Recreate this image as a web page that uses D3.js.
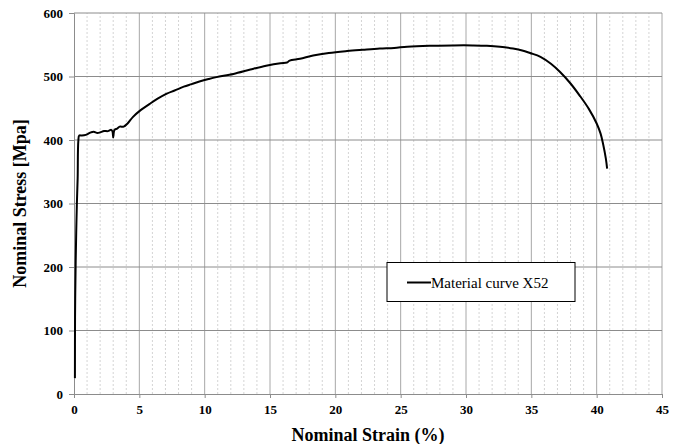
<!DOCTYPE html>
<html>
<head>
<meta charset="utf-8">
<script src="https://cdn.jsdelivr.net/npm/d3@7"></script>
<style>
  body { margin: 0; background: #fff; }
</style>
</head>
<body>
<script>
'use strict';

// material curve X52
const strain = [0.07, 0.08, 0.1, 0.13, 0.17, 0.22, 0.28, 0.33, 0.4, 0.6, 0.9, 1.1, 1.3, 1.5, 1.8, 2.0, 2.3, 2.6, 2.85, 2.95, 3.0, 3.1, 3.3, 3.5, 3.8,
  4.1, 4.5, 5.1, 5.8, 6.4, 7.1, 7.7, 8.4, 9.0, 9.6, 10.3, 10.9, 12.2, 13.5, 14.7, 15.8, 16.3, 16.5, 17.3, 18.3, 19.5, 20.9,
  22.1, 23.4, 24.5, 25.5, 27.2, 29, 30.5, 31.6, 32.6, 33.6, 34.3, 34.9, 35.7, 36.5, 37.2, 38, 38.7, 39.4, 40.0, 40.3, 40.5, 40.7, 40.8];
const stress = [25, 120, 165, 210, 255, 300, 340, 398, 407, 407, 408, 410, 412, 413, 411, 412, 414, 414, 416, 413, 404, 416, 418, 421, 421,
  426, 436, 447, 457, 465, 473, 478, 484, 488, 492, 496, 499, 504, 511, 517, 521, 522, 525, 528, 533, 537, 540,
  542, 544, 545, 547, 548.5, 549, 549, 548.5, 547, 544, 541, 537, 531, 520, 507, 489, 470, 449, 426, 410, 393, 371, 355];
const xTicks = [0, 5, 10, 15, 20, 25, 30, 35, 40, 45];
const yTicks = [0, 100, 200, 300, 400, 500, 600];
const seriesName = "Material curve X52";

const width = 683, height = 444;
const margin = {left: 74, right: 21, top: 13, bottom: 50};
const serif = "'Liberation Serif', 'Times New Roman', serif";

let svg = d3.select("body").append("svg")
    .attr("width", width)
    .attr("height", height);

let x = d3.scaleLinear().domain([0, 45]).range([margin.left, width - margin.right]);
let y = d3.scaleLinear().domain([0, 600]).range([height - margin.bottom, margin.top]);

// minor vertical grid
svg.append("g")
  .selectAll("line")
  .data(d3.range(1, 45).filter(d => d % 5 !== 0))
  .enter().append("line")
    .attr("x1", d => x(d)).attr("x2", d => x(d))
    .attr("y1", y(0)).attr("y2", y(600))
    .attr("stroke", "#d4d4d4")
    .attr("stroke-dasharray", "2,2");

// major grid
svg.append("g")
  .selectAll("line")
  .data(xTicks.slice(1))
  .enter().append("line")
    .attr("x1", d => x(d)).attr("x2", d => x(d))
    .attr("y1", y(0)).attr("y2", y(600))
    .attr("stroke", "#a8a8a8");

svg.append("g")
  .selectAll("line")
  .data(yTicks.slice(1))
  .enter().append("line")
    .attr("x1", x(0)).attr("x2", x(45))
    .attr("y1", d => y(d)).attr("y2", d => y(d))
    .attr("stroke", "#8c8c8c");

// axes
let xAxis = svg.append("g")
    .attr("transform", "translate(0," + y(0) + ")")
    .call(d3.axisBottom(x).tickValues(xTicks).tickSize(4).tickPadding(7));
let yAxis = svg.append("g")
    .attr("transform", "translate(" + x(0) + ",0)")
    .call(d3.axisLeft(y).tickValues(yTicks).tickSize(5).tickPadding(6));
[xAxis, yAxis].forEach(a => {
  a.attr("font-family", serif).attr("font-size", 13).attr("font-weight", "bold");
  a.select(".domain").attr("stroke", "#8c8c8c");
  a.selectAll(".tick line").attr("stroke", "#8c8c8c");
  a.selectAll(".tick text").attr("fill", "#000");
});

// curve
let pts = strain.map((s, i) => [s, stress[i]]);
svg.append("path")
    .datum(pts)
    .attr("fill", "none")
    .attr("stroke", "#000")
    .attr("stroke-width", 2)
    .attr("stroke-linejoin", "round")
    .attr("d", d3.line().x(d => x(d[0])).y(d => y(d[1])).curve(d3.curveCatmullRom.alpha(0.5)));

// legend
let lg = svg.append("g");
lg.append("rect")
    .attr("x", 387).attr("y", 262.5).attr("width", 188).attr("height", 39)
    .attr("fill", "#fff").attr("stroke", "#000").attr("stroke-width", 1);
lg.append("line")
    .attr("x1", 407).attr("x2", 431).attr("y1", 282.5).attr("y2", 282.5)
    .attr("stroke", "#000").attr("stroke-width", 2);
lg.append("text")
    .attr("x", 431).attr("y", 287.5)
    .style("font-family", serif)
    .style("font-size", "15px")
    .text(seriesName);

// axis titles
svg.append("text")
    .attr("x", (x(0) + x(45)) / 2).attr("y", 441)
    .attr("text-anchor", "middle")
    .style("font-family", serif)
    .style("font-weight", "bold")
    .style("font-size", "18px")
    .text("Nominal Strain (%)");

svg.append("text")
    .attr("transform", "translate(26," + (y(0) + y(600)) / 2 + ") rotate(-90)")
    .attr("text-anchor", "middle")
    .style("font-family", serif)
    .style("font-weight", "bold")
    .style("font-size", "18px")
    .text("Nominal Stress [Mpa]");
</script>
</body>
</html>
